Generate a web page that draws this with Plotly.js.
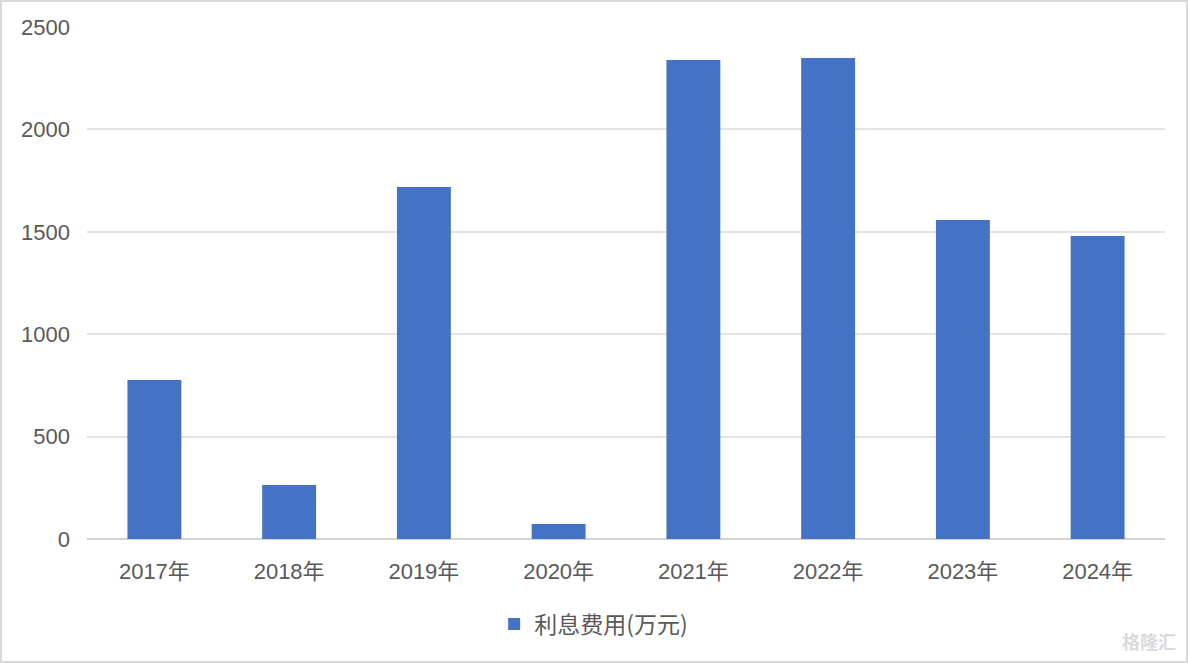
<!DOCTYPE html>
<html>
<head>
<meta charset="utf-8">
<script src="https://cdn.plot.ly/plotly-3.0.1.min.js"></script>
<style>
  body { margin: 0; background: #fff; }
  #chart { width: 1184px; height: 659px; border: 2px solid #d9d9d9; }
</style>
</head>
<body>
<div id="chart"></div>
<script>
"use strict";

// Data
var years = ["2017年", "2018年", "2019年", "2020年", "2021年", "2022年", "2023年", "2024年"]
var interestCost = [776, 264, 1719, 73, 2339, 2349, 1558, 1479]
var seriesName = "利息费用(万元)"
var yTicks = [0, 500, 1000, 1500, 2000, 2500]

var font = "Liberation Sans, Noto Sans CJK SC, sans-serif"

var trace = {
  x: years,
  y: interestCost,
  type: "bar",
  name: seriesName,
  marker: { color: "#4472c4" },
  hoverinfo: "x+y"
}

var layout = {
  width: 1184,
  height: 659,
  margin: { l: 85, r: 21, t: 25, b: 122 },
  paper_bgcolor: "#ffffff",
  plot_bgcolor: "#ffffff",
  font: { family: font, size: 22, color: "#595959" },
  bargap: 0.6,
  showlegend: true,
  legend: {
    orientation: "h",
    x: 0.47, xanchor: "center",
    y: -0.166, yanchor: "middle",
    font: { family: "Noto Sans CJK SC, sans-serif", size: 23, color: "#595959" }
  },
  xaxis: {
    type: "category",
    showgrid: false,
    showline: false,
    ticks: "",
    tickfont: { size: 22 },
    ticklabelstandoff: 17
  },
  yaxis: {
    range: [0, 2500],
    tickvals: yTicks,
    showgrid: true,
    gridcolor: "#e3e3e3",
    gridwidth: 2,
    zeroline: true,
    zerolinecolor: "#d4d4d4",
    zerolinewidth: 2,
    showline: false,
    ticks: "",
    tickfont: { size: 22 },
    ticklabelstandoff: 16
  },
  annotations: [{
    text: "<b>格隆汇</b>",
    xref: "paper", yref: "paper",
    x: 1.012, y: -0.2,
    xanchor: "right", yanchor: "middle",
    showarrow: false,
    font: { family: "Noto Sans CJK SC, sans-serif", size: 18, color: "#dadada" }
  }]
}

Plotly.newPlot("chart", [trace], layout, { displayModeBar: false, staticPlot: true })
</script>
</body>
</html>
